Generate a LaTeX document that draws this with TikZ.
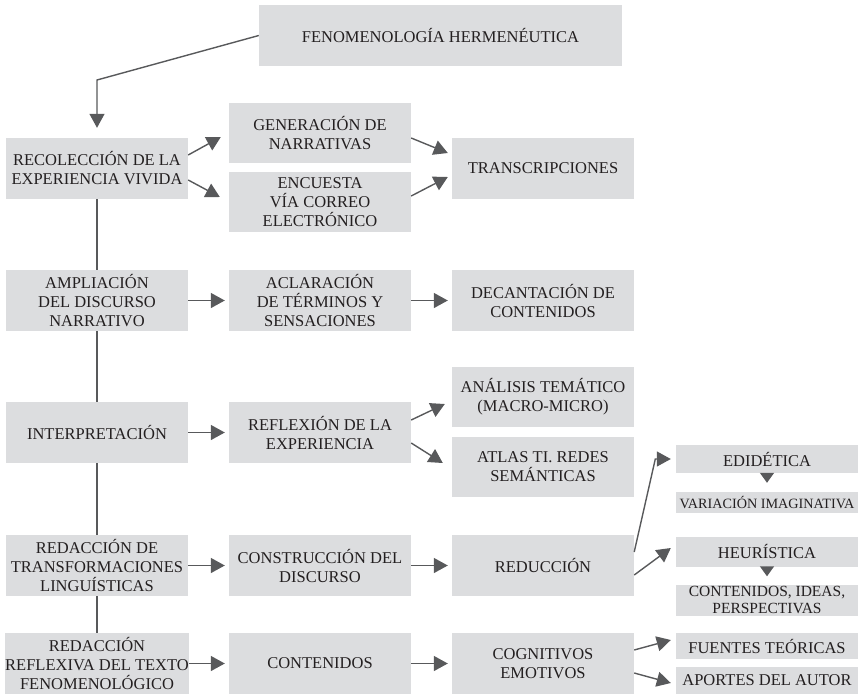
\documentclass[tikz,border=0pt]{standalone}
\usepackage{fontspec}
\setmainfont{Liberation Serif}
\usepackage{xcolor}
\usepackage{tikz}
\usetikzlibrary{arrows.meta}
\definecolor{boxgray}{HTML}{DCDDDF}
\definecolor{linegray}{HTML}{58595B}
\definecolor{textgray}{HTML}{231F20}
\tikzstyle{block} = [rectangle, fill=boxgray, text=textgray, align=center,
    inner sep=0pt, minimum width=182pt, minimum height=61pt,
    font=\fontsize{16.5}{19}\selectfont]
\tikzstyle{smallblock} = [block, minimum height=28pt]
\tikzstyle{arrow} = [draw=linegray, line width=1.4pt, -{Triangle[length=14pt,width=15pt]}]
\tikzstyle{smallarrow} = [draw=linegray, line width=1.4pt, -{Triangle[length=10pt,width=14pt]}]
\tikzstyle{line} = [draw=linegray, line width=1.4pt]

\begin{document}
\begin{tikzpicture}[x=1pt, y=-1pt]
			\useasboundingbox (0,0) rectangle (859,696);
			% 
			\node [block, minimum width=363pt] (fenom) at (440.5,35.5) {FENOMENOLOGÍA HERMENÉUTICA};
			\coordinate (bend) at (97,80);

			% left column
			\node [block] (recoleccion) at (97,168.5) {RECOLECCIÓN DE LA\\EXPERIENCIA VIVIDA};
			\node [block] (ampliacion) at (97,300.5) {AMPLIACIÓN\\DEL DISCURSO\\NARRATIVO};
			\node [block] (interpretacion) at (97,432.5) {INTERPRETACIÓN};
			\node [block] (redTransf) at (97,565.5) {REDACCIÓN DE\\TRANSFORMACIONES\\LINGUÍSTICAS};
			\node [block] (redReflex) at (97,663.5) {REDACCIÓN\\REFLEXIVA DEL TEXTO\\FENOMENOLÓGICO};

			% second column
			\node [block, minimum height=60pt] (generacion) at (320,133) {GENERACIÓN DE\\NARRATIVAS};
			\node [block, minimum height=60pt] (encuesta) at (320,202) {ENCUESTA\\VÍA CORREO\\ELECTRÓNICO};
			\node [block] (aclaracion) at (320,300.5) {ACLARACIÓN\\DE TÉRMINOS Y\\SENSACIONES};
			\node [block] (reflexion) at (320,432.5) {REFLEXIÓN DE LA\\EXPERIENCIA};
			\node [block] (construccion) at (320,565.5) {CONSTRUCCIÓN DEL\\DISCURSO};
			\node [block] (contenidos) at (320,663.5) {CONTENIDOS};

			% third column
			\node [block] (transcripciones) at (543,168.5) {TRANSCRIPCIONES};
			\node [block] (decantacion) at (543,300.5) {DECANTACIÓN DE\\CONTENIDOS};
			\node [block, minimum height=60pt] (analisis) at (543,397) {ANÁLISIS TEMÁTICO\\(MACRO-MICRO)};
			\node [block, minimum height=60pt] (atlas) at (543,467) {ATLAS TI. REDES\\SEMÁNTICAS};
			\node [block] (reduccion) at (543,565.5) {REDUCCIÓN};
			\node [block] (cognitivos) at (543,663.5) {COGNITIVOS\\EMOTIVOS};

			% right column
			\node [smallblock] (edidetica) at (767,459) {EDIDÉTICA};
			\node [smallblock, minimum height=21pt, font=\fontsize{14.2}{16}\selectfont] (variacion) at (767,502.5) {VARIACIÓN IMAGINATIVA};
			\node [smallblock, minimum height=30pt] (heuristica) at (767,551.5) {HEURÍSTICA};
			\node [smallblock, minimum height=31pt, font=\fontsize{15.5}{17}\selectfont] (ideas) at (767,600) {CONTENIDOS, IDEAS,\\PERSPECTIVAS};
			\node [smallblock, minimum height=26pt] (fuentes) at (767,646) {FUENTES TEÓRICAS};
			\node [smallblock, minimum height=27pt] (aportes) at (767,680.5) {APORTES DEL AUTOR};

			% Draw edges
			\path [arrow, shorten >=10pt] (fenom.west) -- (bend) -- (recoleccion.north);

			\path [line] (recoleccion) -- (ampliacion);
			\path [line] (ampliacion) -- (interpretacion);
			\path [line] (interpretacion) -- (redTransf);
			\path [line] (redTransf) -- (redReflex);

			\path [arrow] ([yshift=13.5pt]recoleccion.east) -- ([xshift=-8pt,yshift=-4pt]generacion.west);
			\path [arrow] ([yshift=-11.5pt]recoleccion.east) -- ([xshift=-9pt,yshift=5pt]encuesta.west);
			\path [arrow] ([yshift=-5pt]generacion.east) -- ([xshift=-4pt,yshift=15.5pt]transcripciones.west);
			\path [arrow] ([yshift=6pt]encuesta.east) -- ([xshift=-4pt,yshift=-8.5pt]transcripciones.west);

			\path [arrow, shorten >=4pt] (ampliacion) -- (aclaracion);
			\path [arrow, shorten >=4pt] (aclaracion) -- (decantacion);

			\path [arrow, shorten >=4pt] (interpretacion) -- (reflexion);
			\path [arrow] ([yshift=12.5pt]reflexion.east) -- ([xshift=-7pt,yshift=-7pt]analisis.west);
			\path [arrow] ([yshift=-10.5pt]reflexion.east) -- ([xshift=-9pt,yshift=4pt]atlas.west);

			\path [arrow, shorten >=4pt] (redTransf) -- (construccion);
			\path [arrow, shorten >=4pt] (construccion) -- (reduccion);
			\path [arrow] ([yshift=13.5pt]reduccion.east) -- ([xshift=-20.5pt]edidetica.west) -- ([xshift=-5pt]edidetica.west);
			\path [arrow] ([yshift=-9.5pt]reduccion.east) -- ([xshift=-5pt,yshift=3.5pt]heuristica.west);
			\path [smallarrow, shorten >=9pt] (edidetica) -- (variacion);
			\path [smallarrow, shorten >=8pt] (heuristica) -- (ideas);

			\path [arrow, shorten >=4pt] (redReflex) -- (contenidos);
			\path [arrow, shorten >=4pt] (contenidos) -- (cognitivos);
			\path [arrow] ([yshift=13.5pt]cognitivos.east) -- ([xshift=-5pt,yshift=6pt]fuentes.west);
			\path [arrow] ([yshift=-9.5pt]cognitivos.east) -- ([xshift=-5pt,yshift=-2.5pt]aportes.west);
%
	\end{tikzpicture}
\end{document}
